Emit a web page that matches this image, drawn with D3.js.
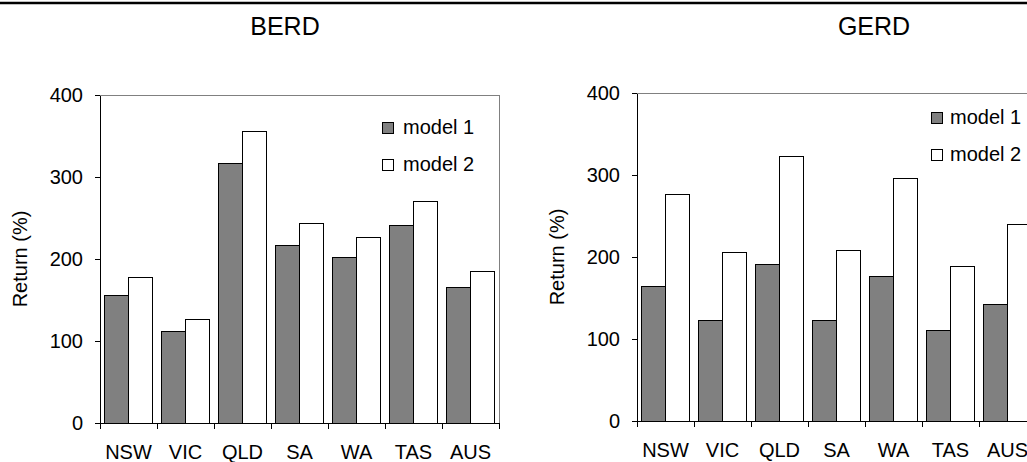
<!DOCTYPE html>
<html>
<head>
<meta charset="utf-8">
<script src="https://cdn.jsdelivr.net/npm/d3@7"></script>
<style>
  html, body { margin: 0; padding: 0; background: #fff; }
  svg { display: block; font-family: "Liberation Sans", Arial, sans-serif; }
</style>
</head>
<body>
<script>
// ---- data ----
const categories = ["NSW", "VIC", "QLD", "SA", "WA", "TAS", "AUS"];
const seriesNames = ["model 1", "model 2"];
const berdModel1 = [155, 112, 317, 217, 202, 241, 165];
const berdModel2 = [178, 126, 356, 243, 226, 270, 185];
const gerdModel1 = [164, 122, 191, 122, 176, 110, 142];
const gerdModel2 = [276, 205, 323, 208, 296, 188, 240];
const yTicks = [0, 100, 200, 300, 400];
const yLabel = "Return (%)";
const chartTitles = ["BERD", "GERD"];

// ---- layout ----
const W = 1027, H = 462;
const seriesFill = ["#808080", "#ffffff"];

const svg = d3.select("body").append("svg")
  .attr("width", W).attr("height", H)
  .attr("viewBox", `0 0 ${W} ${H}`);

svg.append("rect").attr("width", W).attr("height", H).attr("fill", "#fff");

// top rule
svg.append("line")
  .attr("x1", 0).attr("x2", W).attr("y1", 3).attr("y2", 3)
  .attr("stroke", "#000").attr("stroke-width", 2.5);

const panels = [
  { title: chartTitles[0], s1: berdModel1, s2: berdModel2,
    left: 100, top: 95, w: 399, h: 328, titleX: 285, titleY: 35,
    ylabX: 27, legX: 382, legY: 122, legTextX: 403 },
  { title: chartTitles[1], s1: gerdModel1, s2: gerdModel2,
    left: 637, top: 93, w: 399, h: 328, titleX: 874, titleY: 35,
    ylabX: 564, legX: 931, legY: 112, legTextX: 950 }
];

panels.forEach(p => {
  const g = svg.append("g").attr("transform", `translate(${p.left},${p.top})`);

  const x0 = d3.scaleBand().domain(categories).range([0, p.w]).paddingInner(0).paddingOuter(0);
  const bw = x0.bandwidth();
  const pad = bw * 0.085;
  const x1 = d3.scaleBand().domain(seriesNames).range([pad, bw - pad]).padding(0);
  const y = d3.scaleLinear().domain([0, 400]).range([p.h, 0]);

  // plot area border (gray top & right)
  g.append("path")
    .attr("d", `M0,0H${p.w}V${p.h}`)
    .attr("fill", "none").attr("stroke", "#808080").attr("stroke-width", 1)
    .attr("shape-rendering", "crispEdges");

  // bars
  const rows = categories.map((c, i) => ({ c, vals: [p.s1[i], p.s2[i]] }));
  const cg = g.selectAll("g.cat").data(rows).enter().append("g")
    .attr("class", "cat")
    .attr("transform", d => `translate(${x0(d.c)},0)`);
  cg.selectAll("rect").data(d => d.vals.map((v, k) => ({ v, s: seriesNames[k], k })))
    .enter().append("rect")
    .attr("x", d => x1(d.s))
    .attr("width", x1.bandwidth())
    .attr("y", d => y(d.v))
    .attr("height", d => p.h - y(d.v))
    .attr("fill", d => seriesFill[d.k])
    .attr("stroke", "#000").attr("stroke-width", 1)
    .attr("shape-rendering", "crispEdges");

  // y axis
  const ya = g.append("g").call(
    d3.axisLeft(y).tickValues(yTicks).tickSize(5).tickPadding(12).tickSizeOuter(0)
  );
  ya.selectAll("path, line").attr("stroke", "#000").attr("shape-rendering", "crispEdges");
  ya.selectAll("text").attr("font-size", 20).attr("fill", "#000")
    .attr("font-family", "Liberation Sans, Arial, sans-serif");

  // x axis with boundary ticks
  const xb = d3.scaleLinear().domain([0, categories.length]).range([0, p.w]);
  const xa = g.append("g").attr("transform", `translate(0,${p.h})`).call(
    d3.axisBottom(xb).tickValues(d3.range(categories.length + 1)).tickFormat("")
      .tickSizeInner(6).tickSizeOuter(0)
  );
  xa.selectAll("path, line").attr("stroke", "#000").attr("shape-rendering", "crispEdges");

  // category labels
  g.selectAll("text.cat").data(categories).enter().append("text")
    .attr("class", "cat")
    .attr("x", d => x0(d) + bw / 2)
    .attr("y", p.h + 36)
    .attr("text-anchor", "middle")
    .attr("font-size", 20).attr("fill", "#000")
    .text(d => d);

  // y label
  svg.append("text")
    .attr("transform", `translate(${p.ylabX},${p.top + p.h / 2}) rotate(-90)`)
    .attr("text-anchor", "middle")
    .attr("font-size", 20).attr("fill", "#000")
    .text(yLabel);

  // title
  svg.append("text")
    .attr("x", p.titleX).attr("y", p.titleY)
    .attr("text-anchor", "middle")
    .attr("font-size", 25).attr("fill", "#000")
    .text(p.title);

  // legend
  const lg = svg.append("g");
  seriesNames.forEach((s, k) => {
    lg.append("rect")
      .attr("x", p.legX).attr("y", p.legY + k * 37.5)
      .attr("width", 11).attr("height", 11)
      .attr("fill", seriesFill[k]).attr("stroke", "#000").attr("stroke-width", 1)
      .attr("shape-rendering", "crispEdges");
    lg.append("text")
      .attr("x", p.legTextX).attr("y", p.legY + 11.5 + k * 37.5)
      .attr("font-size", 20).attr("fill", "#000")
      .text(s);
  });
});
</script>
</body>
</html>
